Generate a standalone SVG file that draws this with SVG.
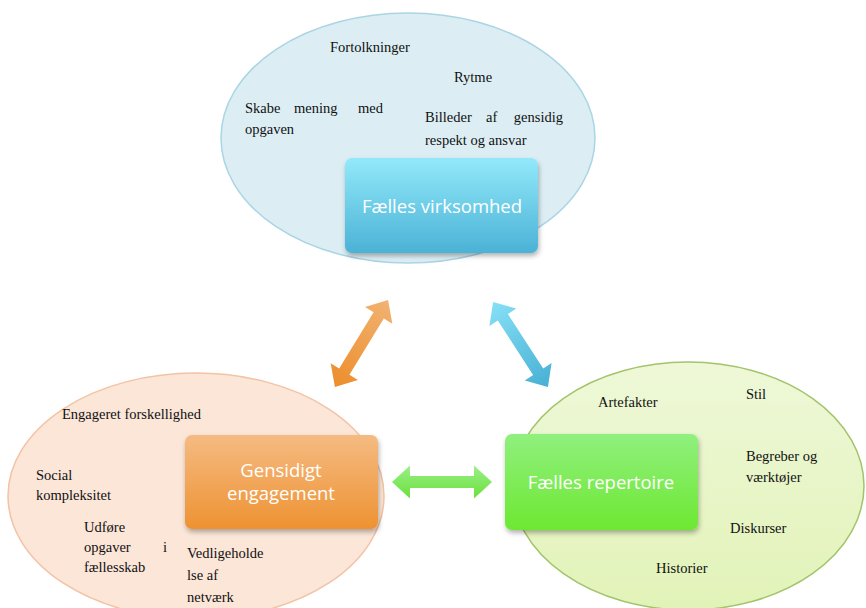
<svg xmlns="http://www.w3.org/2000/svg" width="866" height="608" viewBox="0 0 866 608">
<defs>
<linearGradient id="gBlue" x1="0" y1="0" x2="0" y2="1"><stop offset="0" stop-color="#92e9fa"/><stop offset="1" stop-color="#4bb2d6"/></linearGradient>
<linearGradient id="gOrange" x1="0" y1="0" x2="0" y2="1"><stop offset="0" stop-color="#f5bb82"/><stop offset="1" stop-color="#ee9232"/></linearGradient>
<linearGradient id="gGreen" x1="0" y1="0" x2="0" y2="1"><stop offset="0" stop-color="#90f07e"/><stop offset="1" stop-color="#6de832"/></linearGradient>
<linearGradient id="gEllG" x1="0" y1="0" x2="0" y2="1"><stop offset="0" stop-color="#eef8d8"/><stop offset="1" stop-color="#e2f3b8"/></linearGradient>
<linearGradient id="aOrange" x1="0" y1="0" x2="1" y2="0"><stop offset="0" stop-color="#f2b272"/><stop offset="1" stop-color="#ec8e2c"/></linearGradient>
<linearGradient id="aBlue" x1="0" y1="0" x2="1" y2="0"><stop offset="0" stop-color="#86e0f6"/><stop offset="1" stop-color="#48b0d4"/></linearGradient>
<linearGradient id="aGreen" x1="0" y1="0" x2="0" y2="1"><stop offset="0" stop-color="#9af08a"/><stop offset="1" stop-color="#6ae03a"/></linearGradient>
<filter id="sh" x="-10%" y="-10%" width="125%" height="130%"><feDropShadow dx="1" dy="3" stdDeviation="2.5" flood-color="#000" flood-opacity="0.3"/></filter>
</defs>
<style>
.t{font-family:'Liberation Serif','DejaVu Serif','Times New Roman',serif;font-size:14.5px;fill:#111}
.b{font-family:'Open Sans','Liberation Sans',Arial,sans-serif;fill:#fff;text-anchor:middle;font-size:18.5px}
</style>

<g id="connectors">
<path transform="translate(361.5,343.5) rotate(121.4)" d="M-51,0 L-33,-16 L-33,-6 L33,-6 L33,-16 L51,0 L33,16 L33,6 L-33,6 L-33,16 Z" fill="url(#aOrange)"/>
<path transform="translate(520.5,344.5) rotate(57.1)" d="M-50.5,0 L-32.5,-16 L-32.5,-6 L32.5,-6 L32.5,-16 L50.5,0 L32.5,16 L32.5,6 L-32.5,6 L-32.5,16 Z" fill="url(#aBlue)"/>
<path transform="translate(442,482)" d="M-50,0 L-32,-16.5 L-32,-6 L32,-6 L32,-16.5 L50,0 L32,16.5 L32,6 L-32,6 L-32,16.5 Z" fill="url(#aGreen)"/>
</g>

<g id="virksomhed">
<ellipse cx="408" cy="138" rx="187" ry="125" fill="#dceef4" stroke="#a9d5e4" stroke-width="1.5"/>
<text class="t" x="330" y="52">Fortolkninger</text>
<text class="t" x="454" y="82">Rytme</text>
<text class="t" y="113"><tspan x="245">Skabe</tspan><tspan x="294">mening</tspan><tspan x="383" text-anchor="end">med</tspan></text>
<text class="t" x="245" y="134">opgaven</text>
<text class="t" y="122"><tspan x="425">Billeder</tspan><tspan x="486">af</tspan><tspan x="563" text-anchor="end">gensidig</tspan></text>
<text class="t" x="425" y="145">respekt og ansvar</text>
<rect x="345" y="158" width="193" height="95" rx="7" fill="url(#gBlue)" filter="url(#sh)"/>
<text class="b" x="442" y="213">Fælles virksomhed</text>
</g>

<g id="engagement">
<ellipse cx="196" cy="496" rx="188" ry="123" fill="#fbe6d8" stroke="#f2c3a4" stroke-width="1.5"/>
<text class="t" x="62" y="419">Engageret forskellighed</text>
<text class="t" x="36" y="480">Social</text>
<text class="t" x="36" y="500">kompleksitet</text>
<text class="t" x="84" y="532">Udføre</text>
<text class="t" x="84" y="552">opgaver</text>
<text class="t" x="163" y="552">i</text>
<text class="t" x="84" y="572">fællesskab</text>
<text class="t" x="187" y="558">Vedligeholde</text>
<text class="t" x="187" y="580">lse af</text>
<text class="t" x="187" y="602">netværk</text>
<rect x="185" y="435" width="193" height="94" rx="7" fill="url(#gOrange)" filter="url(#sh)"/>
<text class="b" x="281" y="477">Gensidigt</text>
<text class="b" x="281" y="500">engagement</text>
</g>

<g id="repertoire">
<ellipse cx="688" cy="486" rx="176" ry="124" fill="url(#gEllG)" stroke="#a2c46a" stroke-width="1.5"/>
<text class="t" x="598" y="407">Artefakter</text>
<text class="t" x="746" y="399">Stil</text>
<text class="t" x="746" y="461">Begreber og</text>
<text class="t" x="746" y="482">værktøjer</text>
<text class="t" x="730" y="533">Diskurser</text>
<text class="t" x="656" y="573">Historier</text>
<rect x="505" y="434" width="193" height="96" rx="7" fill="url(#gGreen)" filter="url(#sh)"/>
<text class="b" x="601" y="489">Fælles repertoire</text>
</g>
</svg>
